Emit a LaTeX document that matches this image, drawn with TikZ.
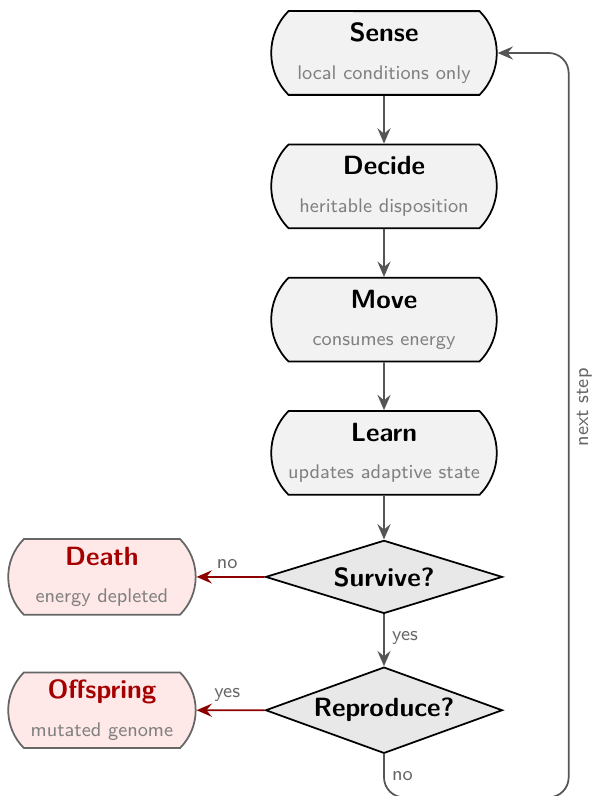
\documentclass[tikz,border=0pt]{standalone}
\usepackage{tikz}
\usetikzlibrary{arrows.meta}
\usetikzlibrary{calc}
\usetikzlibrary{positioning}
\usetikzlibrary{shapes.misc,shapes.geometric}

\definecolor{boxfill}{HTML}{F2F2F2}
\definecolor{decfill}{HTML}{E8E8E8}
\definecolor{deadfill}{HTML}{FFE8E8}
\definecolor{deadred}{HTML}{A50000}
\definecolor{flowgray}{HTML}{555555}
\definecolor{notegray}{HTML}{808080}

\begin{document}
\begin{tikzpicture}[
  font = \sffamily,
  node distance = 0.765cm,
  stepbox/.style = {draw,line width=0.8pt,fill=boxfill,rounded rectangle,rounded rectangle arc length=90,
    minimum width=3.75cm,minimum height=1.34cm,align=center,inner sep=2pt},
  endbox/.style = {stepbox,draw=black!60,fill=deadfill,minimum width=3.14cm,minimum height=1.21cm},
  query/.style = {draw,line width=0.8pt,fill=decfill,diamond,aspect=3,minimum width=3.79cm,inner sep=1pt,font=\sffamily\bfseries},
  flow/.style = {-{Stealth[length=7pt,width=6pt,inset=2.5pt]},line width=0.8pt,draw=flowgray},
  kill/.style = {flow,draw=deadred!85!black},
  lbl/.style = {font=\sffamily\small,text=flowgray!90}
  ]
  \newcommand{\steptext}[2]{{\large\bfseries #1}\\[5pt]{\small\color{notegray}#2}}
  \newcommand{\fatetext}[2]{{\large\bfseries\color{deadred}#1}\\[5pt]{\small\color{notegray}#2}}

  \useasboundingbox (-6.144,0.848) rectangle (3.376,-11.888);

  \node[stepbox] (sense) {\steptext{Sense}{local conditions only}};
  \node[stepbox,below=of sense] (decide) {\steptext{Decide}{heritable disposition}};
  \node[stepbox,below=of decide] (move) {\steptext{Move}{consumes energy}};
  \node[stepbox,below=of move] (learn) {\steptext{Learn}{updates adaptive state}};
  \node[query,minimum height=1.17cm,below=0.70cm of learn] (survive) {\large Survive?};
  \node[query,minimum height=1.38cm,below=0.83cm of survive] (repro) {\large Reproduce?};

  \node[endbox,left=1.09cm of survive] (death) {\fatetext{Death}{energy depleted}};
  \node[endbox,left=1.09cm of repro] (offspring) {\fatetext{Offspring}{mutated genome}};

  \coordinate (loopright) at ($(sense.east)+(1.136,0)$);

  \draw[flow] (sense) -- (decide);
  \draw[flow] (decide) -- (move);
  \draw[flow] (move) -- (learn);
  \draw[flow] (learn) -- (survive);
  \draw[flow] (survive) -- node[lbl,right,pos=0.45] {yes} (repro);
  \draw[kill] (survive) -- node[lbl,above,pos=0.55] {no} (death);
  \draw[kill] (repro) -- node[lbl,above,pos=0.55] {yes} (offspring);
  \draw[flow,rounded corners=0.32cm] (repro.south) -- ++(0,-0.69) node[lbl,right,midway] {no}
    -| (loopright) node[lbl,rotate=90,anchor=north,pos=0.762] {next step} -- (sense.east);
\end{tikzpicture}
\end{document}
